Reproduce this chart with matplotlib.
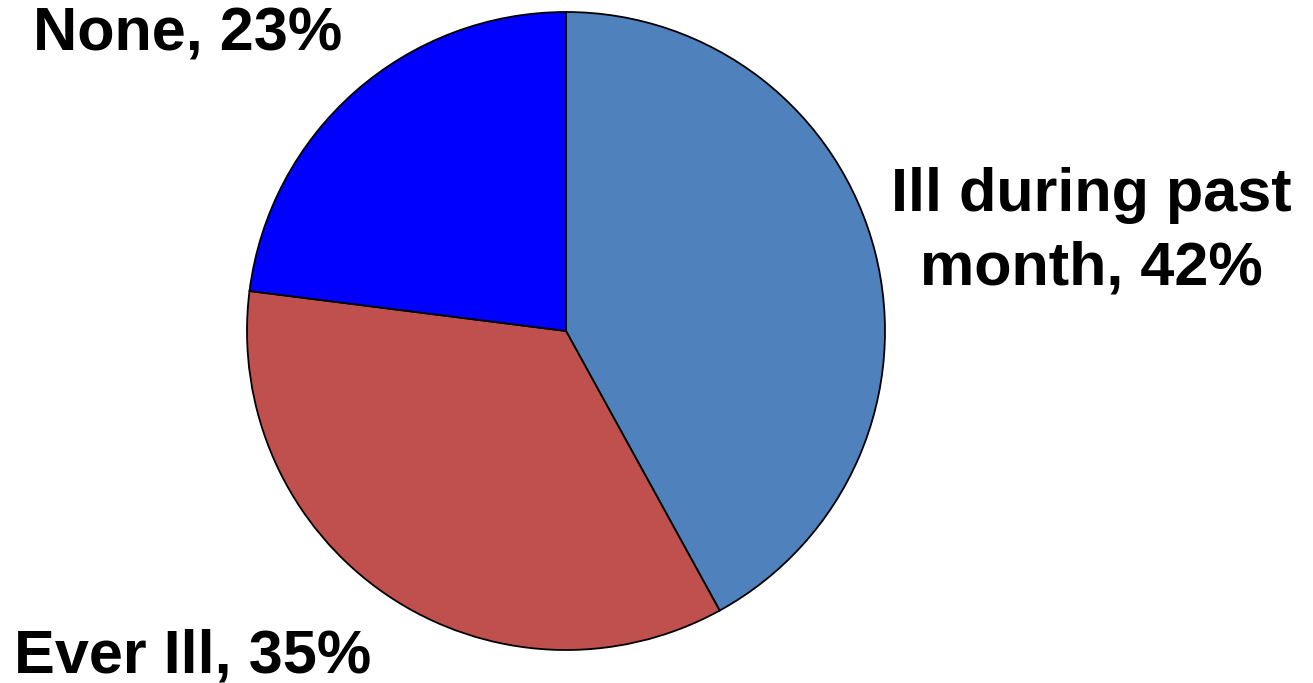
import matplotlib
matplotlib.use('Agg')
import matplotlib.pyplot as plt

## data
labels = ['Ill during past\nmonth, 42%', 'Ever Ill, 35%', 'None, 23%']
values = [42, 35, 23]
colors = ['#4F81BD', '#C0504D', '#0000FF']

plt.rcParams['font.family'] = ['Liberation Sans', 'DejaVu Sans']

fig = plt.figure(figsize=(13.13, 6.83), dpi=100)
# axes placed so the pie sits where it does in the original
ax = fig.add_axes([247/1313, 33/683, 638/1313, 638/683])
ax.pie(values, colors=colors, startangle=90, counterclock=False, radius=1,
       wedgeprops=dict(edgecolor='black', linewidth=1.3))
ax.set_xlim(-1, 1)
ax.set_ylim(-1, 1)
ax.set_aspect('equal')
ax.axis('off')

# label positions in data units
label_pos = [(1.648, 0.31), (-1.169, -1.022), (-1.185, 0.928)]
for lab, (x, y) in zip(labels, label_pos):
	ax.text(x, y, lab, ha='center', va='center', fontsize=44, fontweight='bold',
	        linespacing=1.36, clip_on=False)

fig.savefig('out.png', dpi=100)
